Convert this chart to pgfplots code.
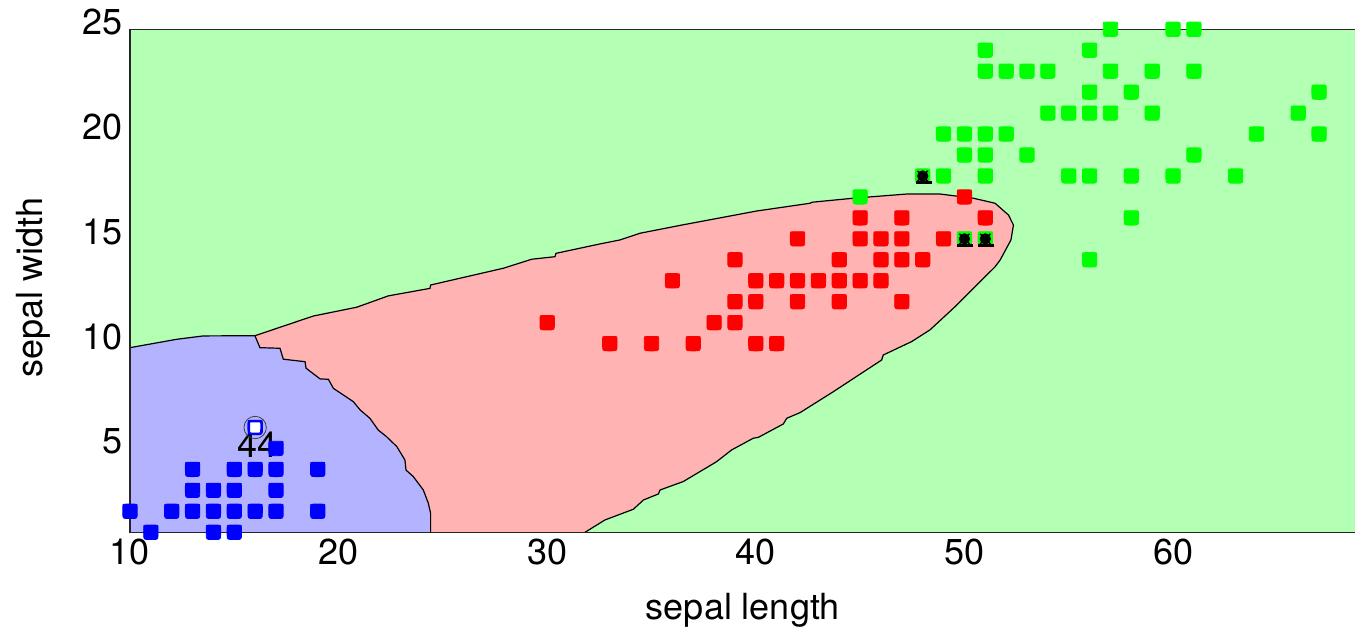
\documentclass[border=0pt]{standalone}
\usepackage{fontspec}
\setmainfont{TeX Gyre Heros}
\usepackage{pgfplots}
\pgfplotsset{compat=1.18}
\usetikzlibrary{calc}

\definecolor{bgG}{RGB}{179,255,179}
\definecolor{bgR}{RGB}{255,179,179}
\definecolor{bgB}{RGB}{179,179,255}
\definecolor{ptG}{RGB}{0,255,0}
\definecolor{ptR}{RGB}{255,0,0}
\definecolor{ptB}{RGB}{0,0,255}

% square marker, flat top with small corners, rounder bottom
\pgfdeclareplotmark{rsq}{%
  \pgfpathmoveto{\pgfpoint{0pt}{\pgfplotmarksize}}%
  \pgfpathlineto{\pgfpoint{0.65\pgfplotmarksize}{\pgfplotmarksize}}%
  \pgfpathcurveto{\pgfpoint{\pgfplotmarksize}{\pgfplotmarksize}}{\pgfpoint{\pgfplotmarksize}{\pgfplotmarksize}}{\pgfpoint{\pgfplotmarksize}{0.65\pgfplotmarksize}}%
  \pgfpathlineto{\pgfpoint{\pgfplotmarksize}{-0.2\pgfplotmarksize}}%
  \pgfpathcurveto{\pgfpoint{\pgfplotmarksize}{-\pgfplotmarksize}}{\pgfpoint{\pgfplotmarksize}{-\pgfplotmarksize}}{\pgfpoint{0.2\pgfplotmarksize}{-\pgfplotmarksize}}%
  \pgfpathlineto{\pgfpoint{-0.2\pgfplotmarksize}{-\pgfplotmarksize}}%
  \pgfpathcurveto{\pgfpoint{-\pgfplotmarksize}{-\pgfplotmarksize}}{\pgfpoint{-\pgfplotmarksize}{-\pgfplotmarksize}}{\pgfpoint{-\pgfplotmarksize}{-0.2\pgfplotmarksize}}%
  \pgfpathlineto{\pgfpoint{-\pgfplotmarksize}{0.65\pgfplotmarksize}}%
  \pgfpathcurveto{\pgfpoint{-\pgfplotmarksize}{\pgfplotmarksize}}{\pgfpoint{-\pgfplotmarksize}{\pgfplotmarksize}}{\pgfpoint{-0.65\pgfplotmarksize}{\pgfplotmarksize}}%
  \pgfpathclose
  \pgfusepathqfillstroke}

\begin{document}
\begin{tikzpicture}[font=\fontsize{18}{22}\selectfont]
\begin{axis}[
  scale only axis, width=615.4pt, height=251.5pt,
  xmin=10, xmax=69, ymin=1, ymax=25,
  xtick={10,20,...,60}, ytick={5,10,...,25},
  major tick length=0pt,
  /pgf/number format/assume math mode=true,
  tick label style={font=\fontsize{18}{22}\selectfont},
  yticklabel style={yshift=3.5pt},
  label style={font=\fontsize{18}{22}\selectfont},
  xlabel={sepal length}, ylabel={sepal width},
  xlabel style={at={(axis description cs:0.498,-0.173)}, anchor=base},
  ylabel style={at={(axis description cs:-0.0707,0.487)}, anchor=base},
  axis background/.style={fill=bgG},
  axis line style={black!85, line width=0.8pt},
  axis on top,
  mark options={solid},
]
% class regions
\addplot[fill=bgR, draw=none] coordinates {
  (15.99,10.38) (18.79,11.32) (20.87,11.74) (22.38,12.28) (24.38,12.64) (24.41,12.80)
  (27.9,13.6) (29.26,14.03) (30.37,14.15) (30.42,14.31) (32.53,14.76) (33.49,14.95)
  (34.45,15.27) (36.45,15.66) (40.04,16.33) (42.6,16.70) (42.7,16.75) (44.67,16.94)
  (47.23,17.14) (48.83,17.14) (50.43,16.94) (51.47,16.70) (52.11,16.14) (52.35,15.66)
  (52.23,14.95) (51.71,13.99) (51.47,13.67) (50.43,12.64) (49.47,11.69) (48.35,10.66)
  (47.47,10.10) (46.11,9.46) (46.03,9.22) (45.31,8.75) (43.7,7.7) (42.12,6.71)
  (41.48,6.44) (41.32,6.17) (40.12,5.53) (39.88,5.49) (38.84,4.93) (38.12,4.37)
  (36.52,3.42) (35.41,3.02) (35.33,2.83) (34.61,2.54) (34.13,2.10) (32.77,1.59)
  (31.81,1.0) (24.41,1.0)
  (24.41,1.91) (24.3,2.39) (24.06,3.02) (23.58,3.66) (23.23,3.97) (23.18,4.45)
  (22.79,5.09) (22.3,5.56) (21.9,5.88) (21.5,6.44) (21.03,6.84) (20.71,7.23)
  (19.75,7.87) (19.51,8.30) (19.11,8.32) (18.44,8.83) (18.39,9.14) (17.35,9.26)
  (17.19,9.78) (16.23,9.81)
} -- cycle;
\addplot[fill=bgB, draw=none] coordinates {
  (10,1) (10,9.81) (12.24,10.21) (13.51,10.37) (15.99,10.38)
  (16.23,9.81) (17.19,9.78) (17.35,9.26) (18.39,9.14) (18.44,8.83) (19.11,8.32)
  (19.51,8.30) (19.75,7.87) (20.71,7.23) (21.03,6.84) (21.5,6.44) (21.9,5.88)
  (22.3,5.56) (22.79,5.09) (23.18,4.45) (23.23,3.97) (23.58,3.66) (24.06,3.02)
  (24.3,2.39) (24.41,1.91) (24.41,1.0)
} -- cycle;
% boundaries
\addplot[black, line width=0.6pt] coordinates {
  (10,9.81) (12.24,10.21) (13.51,10.37) (15.99,10.38)};
\addplot[black, line width=0.6pt] coordinates {
  (15.99,10.38) (16.23,9.81) (17.19,9.78) (17.35,9.26) (18.39,9.14) (18.44,8.83)
  (19.11,8.32) (19.51,8.30) (19.75,7.87) (20.71,7.23) (21.03,6.84) (21.5,6.44)
  (21.9,5.88) (22.3,5.56) (22.79,5.09) (23.18,4.45) (23.23,3.97) (23.58,3.66)
  (24.06,3.02) (24.3,2.39) (24.41,1.91) (24.41,1.0)};
\addplot[black, line width=0.6pt] coordinates {
  (15.99,10.38) (18.79,11.32) (20.87,11.74) (22.38,12.28) (24.38,12.64) (24.41,12.80)
  (27.9,13.6) (29.26,14.03) (30.37,14.15) (30.42,14.31) (32.53,14.76) (33.49,14.95)
  (34.45,15.27) (36.45,15.66) (40.04,16.33) (42.6,16.70) (42.7,16.75) (44.67,16.94)
  (47.23,17.14) (48.83,17.14) (50.43,16.94) (51.47,16.70) (52.11,16.14) (52.35,15.66)
  (52.23,14.95) (51.71,13.99) (51.47,13.67) (50.43,12.64) (49.47,11.69) (48.35,10.66)
  (47.47,10.10) (46.11,9.46) (46.03,9.22) (45.31,8.75) (43.7,7.7) (42.12,6.71)
  (41.48,6.44) (41.32,6.17) (40.12,5.53) (39.88,5.49) (38.84,4.93) (38.12,4.37)
  (36.52,3.42) (35.41,3.02) (35.33,2.83) (34.61,2.54) (34.13,2.10) (32.77,1.59)
  (31.81,1.0)};
% setosa
\addplot[only marks, mark=rsq, mark size=3.6pt, color=ptB] coordinates {
  (11,1) (14,1) (15,1)
  (10,2) (12,2) (13,2) (14,2) (15,2) (16,2) (17,2) (19,2)
  (13,3) (14,3) (15,3) (17,3)
  (13,4) (15,4) (16,4) (17,4) (19,4)
  (17,5)};
% versicolor
\addplot[only marks, mark=rsq, mark size=3.6pt, color=ptR] coordinates {
  (30,11) (33,10) (35,10) (37,10) (40,10) (41,10)
  (38,11) (39,11)
  (39,12) (40,12) (42,12) (44,12) (47,12)
  (36,13) (40,13) (41,13) (42,13) (43,13) (44,13) (45,13) (46,13)
  (39,14) (44,14) (46,14) (47,14) (48,14)
  (42,15) (45,15) (46,15) (47,15) (49,15)
  (45,16) (47,16) (51,16)
  (50,17)};
% virginica
\addplot[only marks, mark=rsq, mark size=3.6pt, color=ptG] coordinates {
  (56,14) (58,16) (45,17)
  (48,18) (49,18) (51,18) (55,18) (56,18) (58,18) (60,18) (63,18)
  (50,19) (51,19) (53,19) (61,19)
  (49,20) (50,20) (51,20) (52,20) (64,20) (67,20)
  (54,21) (55,21) (56,21) (57,21) (59,21) (66,21)
  (56,22) (58,22) (67,22)
  (51,23) (52,23) (53,23) (54,23) (57,23) (59,23) (61,23)
  (51,24) (56,24)
  (57,25) (60,25) (61,25)
  (50,15) (51,15)};
% misclassified
\addplot[only marks, mark=*, mark size=2.6pt, black] coordinates {(48,18) (50,15) (51,15)};
\addplot[only marks, mark=x, mark size=3.6pt, black, line width=0.7pt] coordinates {(48,18) (50,15) (51,15)};
\addplot[only marks, mark=-, mark size=4pt, black, line width=1.2pt,
  mark options={yshift=-3.3pt, xshift=0.5pt}] coordinates {(48,18) (50,15) (51,15)};
% highlighted sample 44
\addplot[only marks, mark=rsq, mark size=3.2pt, draw=ptB, fill=white, line width=1.3pt] coordinates {(16,6)};
\addplot[only marks, mark=o, mark size=5.6pt, black!75, line width=0.4pt] coordinates {(16,6)};
\node[anchor=north, inner sep=0pt] at (axis cs:16.09,5.8) {44};
\end{axis}
\pgfresetboundingbox
\path[use as bounding box] ($(current axis.south west)+(-65pt,-47.85pt)$) rectangle ($(current axis.north west)+(612.5pt,14.65pt)$);
\end{tikzpicture}
\end{document}
